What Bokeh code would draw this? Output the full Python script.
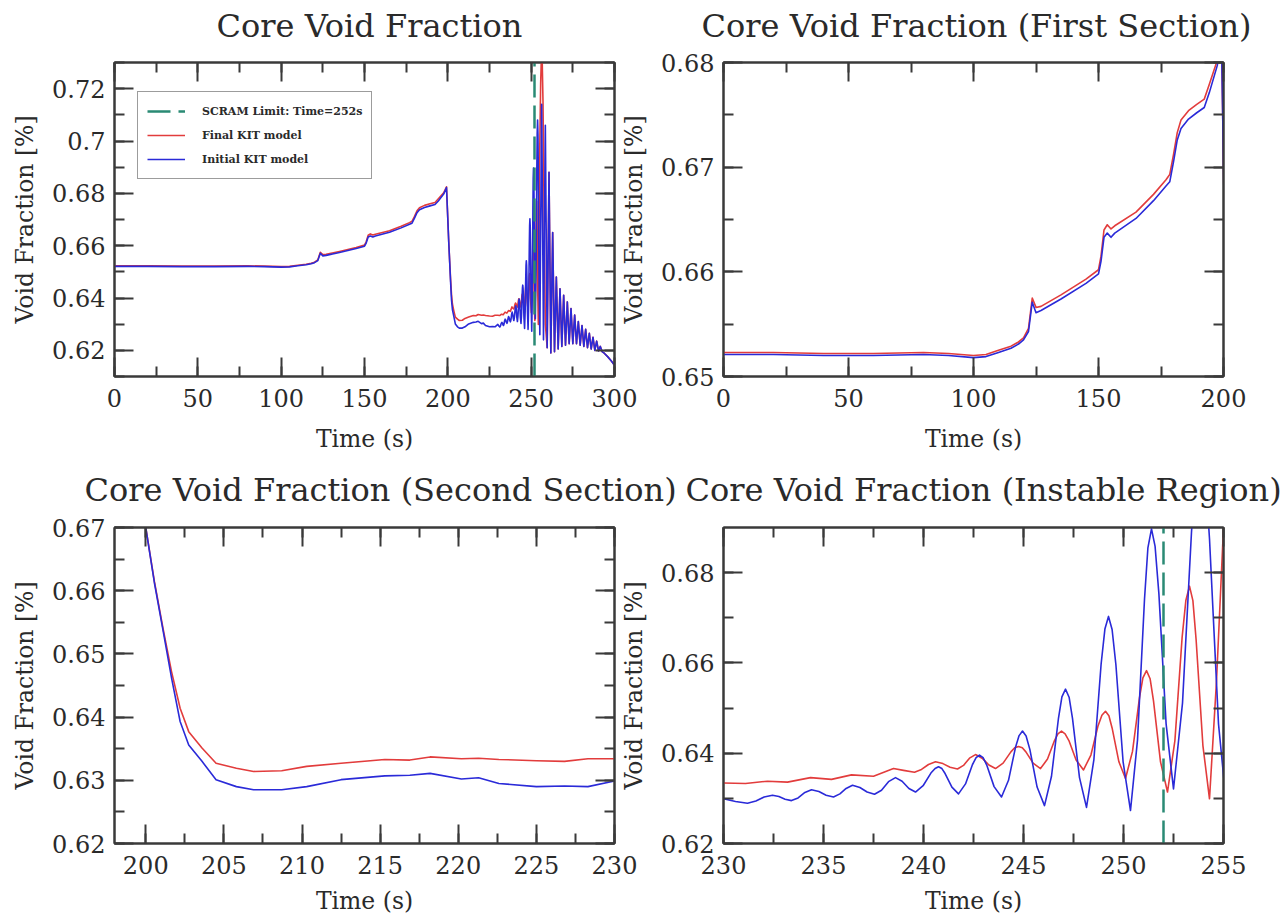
from bokeh.plotting import figure
from bokeh.models import (Range1d, LinearAxis, SingleIntervalTicker, CustomJSTickFormatter,
                          Legend, LegendItem, ColumnDataSource)
from bokeh.layouts import row, column
from bokeh.embed import file_html
from bokeh.resources import INLINE

# ---------------- data ----------------
scram_time = 252

t_final = [0, 20, 40, 60, 80, 90, 100, 105, 110, 115, 118, 120, 122, 123.5, 125, 127, 135, 145,
           150, 151, 152.2, 153.5, 155, 156.5, 165, 172, 177, 178.5, 180, 181.5, 183, 186, 189.3,
           192.3, 194.3, 197.5, 199.2,
           200.0, 200.55, 201.1, 201.65, 202.2, 202.75, 203.6, 204.5, 205.8, 206.9, 208.7, 210.3,
           212.5, 215.3, 216.9, 218.2, 220.2, 221.3, 222.6, 225.0, 226.8, 228.3,
           230.0, 231.1, 232.2, 233.2, 234.35, 235.4, 236.4, 237.5, 238.5, 239.0,
           239.55, 239.9, 240.25, 240.6, 240.97, 241.33, 241.7, 242.0, 242.3, 242.6,
           242.93, 243.27, 243.6, 243.98, 244.37, 244.56, 244.75, 244.94, 245.12, 245.48,
           245.85, 246.2, 246.55, 246.72, 246.9, 247.08, 247.27, 247.63, 248.0, 248.37,
           248.73, 248.92, 249.1, 249.27, 249.43, 249.77, 250.1, 250.45, 250.8, 250.97,
           251.15, 251.33, 251.5, 251.85, 252.2, 252.57, 252.93, 253.12, 253.3, 253.47,
           253.63, 253.97, 254.3, 254.65, 255.0,
           255.7, 256.4, 257.1, 257.8, 258.5, 259.6,
           260.7, 261.8, 262.9, 264.0, 265.1, 266.2, 267.3, 268.4, 269.5, 270.6,
           271.7, 272.8, 273.9, 275.0, 276.1, 277.2, 278.3, 279.4, 280.5, 281.6,
           282.7, 283.8, 284.9, 286.0, 287.1, 288.2, 289.3, 290.4, 291.5, 292.6,
           294.0, 296.0, 298.0, 300.0]
v_final = [0.6523, 0.6523, 0.6522, 0.6522, 0.6523, 0.6522, 0.6520, 0.6521, 0.6525, 0.6529, 0.6533,
           0.6537, 0.6546, 0.6575, 0.6566, 0.6567, 0.6578, 0.6593,
           0.6602, 0.6615, 0.6640, 0.6645, 0.6641, 0.6644, 0.6657, 0.6674, 0.6688, 0.6693, 0.6712,
           0.6733, 0.6745, 0.6754, 0.6760,
           0.6765, 0.6779, 0.6802, 0.6825,
           0.6700, 0.6615, 0.6541, 0.6472, 0.6414, 0.6377, 0.6351, 0.6327, 0.6319, 0.6314, 0.6315,
           0.6322,
           0.6327, 0.6333, 0.6332, 0.6337, 0.6334, 0.6335, 0.6333, 0.6331, 0.6330, 0.6334,
           0.6334, 0.6333, 0.6338, 0.6336, 0.6346, 0.6342, 0.6352, 0.6349, 0.6366, 0.6362,
           0.6358, 0.6364, 0.6375, 0.6381, 0.6377, 0.6369, 0.6365, 0.6373, 0.6389, 0.6397,
           0.6389, 0.6374, 0.6366, 0.6378, 0.6403, 0.6412, 0.6415, 0.6412, 0.6403, 0.6378,
           0.6366, 0.6387, 0.6428, 0.6443, 0.6449, 0.6443, 0.6428, 0.6385, 0.6363, 0.6396,
           0.6461, 0.6484, 0.6493, 0.6483, 0.6456, 0.6381, 0.6344, 0.6404, 0.6523, 0.6567,
           0.6583, 0.6565, 0.6516, 0.6381, 0.6314, 0.6428, 0.6656, 0.6739, 0.6770, 0.6738,
           0.6652, 0.6417, 0.6299, 0.6560, 0.6900,
           0.7220, 0.7380, 0.7150, 0.6700, 0.6300, 0.6210,
           0.6880, 0.6190, 0.6650, 0.6195, 0.6480, 0.6205, 0.6435, 0.6215, 0.6410, 0.6220,
           0.6385, 0.6225, 0.6360, 0.6225, 0.6335, 0.6225, 0.6310, 0.6220, 0.6295, 0.6215,
           0.6280, 0.6210, 0.6265, 0.6205, 0.6250, 0.6200, 0.6235, 0.6198, 0.6215, 0.6195,
           0.6188, 0.6175, 0.6160, 0.6143]

t_initial = [0, 20, 40, 60, 80, 90, 100, 105, 110, 115, 118, 120, 122, 123.5, 125, 127, 135, 145,
             150, 151, 152.2, 153.5, 155, 156.5, 165, 172, 177, 178.5, 180, 181.5, 183, 186, 189.3,
             192.3, 194.3, 197.5, 199.2,
             200.0, 200.55, 201.1, 201.65, 202.2, 202.75, 203.6, 204.5, 205.8, 206.9, 208.7, 210.3,
             212.5, 215.3, 216.9, 218.2, 220.2, 221.3, 222.6, 225.0, 226.8, 228.3,
             230.0, 230.6, 231.2, 231.62, 232.03, 232.45, 232.77, 233.08, 233.4, 233.73,
             234.07, 234.4, 234.77, 235.13, 235.5, 235.82, 236.13, 236.45, 236.82, 237.18,
             237.55, 237.9, 238.25, 238.6, 238.93, 239.27, 239.6, 239.98, 240.37, 240.58,
             240.75, 240.92, 241.08, 241.42, 241.75, 242.1, 242.45, 242.63, 242.8, 242.98,
             243.17, 243.53, 243.9, 244.25, 244.6, 244.78, 244.95, 245.13, 245.32, 245.68,
             246.05, 246.4, 246.75, 246.92, 247.1, 247.28, 247.45, 247.8, 248.15, 248.52,
             248.88, 249.07, 249.25, 249.43, 249.62, 249.98, 250.35, 250.7, 251.05, 251.22,
             251.4, 251.58, 251.77, 252.13, 252.5, 252.95, 253.4, 253.62, 253.85, 254.08,
             254.3, 254.75, 255.2,
             256.3, 257.4, 258.5, 259.6,
             260.7, 261.8, 262.9, 264.0, 265.1, 266.2, 267.3, 268.4, 269.5, 270.6,
             271.7, 272.8, 273.9, 275.0, 276.1, 277.2, 278.3, 279.4, 280.5, 281.6,
             282.7, 283.8, 284.9, 286.0, 287.1, 288.2, 289.3, 290.4, 291.5, 292.6,
             294.0, 296.0, 298.0, 300.0]
v_initial = [0.6521, 0.6521, 0.6520, 0.6520, 0.6521, 0.6520, 0.6518, 0.6519, 0.6523, 0.6527, 0.6531,
             0.6535, 0.6543, 0.6571, 0.6561, 0.6563, 0.6574, 0.6589,
             0.6598, 0.6610, 0.6633, 0.6637, 0.6633, 0.6637, 0.6651, 0.6668, 0.6682, 0.6686, 0.6705,
             0.6726, 0.6737, 0.6746, 0.6752,
             0.6757, 0.6771, 0.6797, 0.6822,
             0.6700, 0.6613, 0.6538, 0.6462, 0.6393, 0.6356, 0.6330, 0.6301, 0.6290, 0.6285, 0.6285,
             0.6290,
             0.6301, 0.6307, 0.6308, 0.6311, 0.6302, 0.6304, 0.6295, 0.6290, 0.6291, 0.6290,
             0.6299, 0.6293, 0.6289, 0.6294, 0.6303, 0.6307, 0.6304, 0.6298, 0.6295, 0.6301,
             0.6313, 0.6319, 0.6315, 0.6307, 0.6303, 0.6310, 0.6322, 0.6329, 0.6324, 0.6314,
             0.6309, 0.6318, 0.6337, 0.6346, 0.6338, 0.6322, 0.6314, 0.6328, 0.6356, 0.6366,
             0.6370, 0.6366, 0.6355, 0.6325, 0.6310, 0.6332, 0.6375, 0.6390, 0.6396, 0.6390,
             0.6373, 0.6326, 0.6303, 0.6340, 0.6413, 0.6439, 0.6449, 0.6438, 0.6408, 0.6325,
             0.6284, 0.6349, 0.6478, 0.6525, 0.6542, 0.6524, 0.6477, 0.6346, 0.6280, 0.6386,
             0.6597, 0.6675, 0.6703, 0.6674, 0.6596, 0.6381, 0.6273, 0.6429, 0.6741, 0.6855,
             0.6897, 0.6858, 0.6753, 0.6465, 0.6321, 0.6511, 0.6890, 0.7029, 0.7080, 0.7025,
             0.6875, 0.6465, 0.6260,
             0.7140, 0.6240, 0.7060, 0.6210,
             0.6880, 0.6190, 0.6650, 0.6195, 0.6480, 0.6205, 0.6435, 0.6215, 0.6410, 0.6220,
             0.6385, 0.6225, 0.6360, 0.6225, 0.6335, 0.6225, 0.6310, 0.6220, 0.6295, 0.6215,
             0.6280, 0.6210, 0.6265, 0.6205, 0.6250, 0.6200, 0.6235, 0.6198, 0.6215, 0.6195,
             0.6188, 0.6175, 0.6160, 0.6143]

assert len(t_final) == len(v_final), (len(t_final), len(v_final))
assert len(t_initial) == len(v_initial), (len(t_initial), len(v_initial))

titles = ["Core Void Fraction", "Core Void Fraction (First Section)",
          "Core Void Fraction (Second Section)", "Core Void Fraction (Instable Region)"]
x_ranges = [(0, 300), (0, 200), (198, 230), (230, 255)]
y_ranges = [(0.61, 0.73), (0.65, 0.68), (0.62, 0.67), (0.62, 0.69)]
x_steps = [50, 50, 5, 5]
y_steps = [0.02, 0.01, 0.01, 0.02]
legend_labels = ["SCRAM Limit: Time=%ds" % scram_time, "Final KIT model", "Initial KIT model"]

# ---------------- styling ----------------
FONT = "DejaVu Serif"
TEXT = "#2a2a2a"
FRAME = "#3a3a3a"
RED = "#e23c3c"
BLUE = "#2a2ad8"
TEAL = "#2a8a74"
DASH = "23 8"

title_offsets = [102, -22, -30, -38]
title_standoffs = [36, 36, 38, 38]
xlabel_standoffs = [15, 15, 10, 10]

src_final = ColumnDataSource(dict(t=t_final, v=v_final))
src_initial = ColumnDataSource(dict(t=t_initial, v=v_initial))


def style_axis(ax, step, labels=True):
    ax.ticker = SingleIntervalTicker(interval=step, num_minor_ticks=2)
    ax.formatter = CustomJSTickFormatter(code="return String(Number(tick.toFixed(4)));")
    ax.major_tick_in = 19
    ax.major_tick_out = 0
    ax.minor_tick_in = 10
    ax.minor_tick_out = 0
    for prop in ("major_tick_line", "minor_tick_line", "axis_line"):
        setattr(ax, prop + "_color", FRAME)
        setattr(ax, prop + "_width", 2)
    if labels:
        ax.major_label_text_font = FONT
        ax.major_label_text_font_size = "24px"
        ax.major_label_text_color = TEXT
        ax.axis_label_text_font = FONT
        ax.axis_label_text_font_size = "23.5px"
        ax.axis_label_text_font_style = "normal"
        ax.axis_label_text_color = TEXT
    else:
        ax.major_label_text_font_size = "1px"
        ax.major_label_text_color = None
        ax.major_label_standoff = 0
        ax.axis_label = None
        ax.axis_label_standoff = 0


def make_panel(i, width, height, borders, margin, legend=False):
    bl, br, bt, bb = borders
    p = figure(width=width, height=height,
               x_range=Range1d(*x_ranges[i]), y_range=Range1d(*y_ranges[i]),
               output_backend="svg", toolbar_location=None,
               min_border_left=bl, min_border_right=br, min_border_top=bt, min_border_bottom=bb,
               x_axis_label="Time (s)", y_axis_label="Void Fraction [%]", title=titles[i])
    p.margin = margin
    p.border_fill_color = None
    p.background_fill_color = "white"
    p.outline_line_color = FRAME
    p.outline_line_width = 2
    p.xgrid.visible = False
    p.ygrid.visible = False
    p.title.text_font = FONT
    p.title.text_font_size = "32px"
    p.title.text_font_style = "normal"
    p.title.text_color = TEXT
    p.title.align = "left"
    p.title.offset = title_offsets[i]
    p.title.standoff = title_standoffs[i]

    style_axis(p.xaxis[0], x_steps[i])
    style_axis(p.yaxis[0], y_steps[i])
    p.xaxis[0].major_label_standoff = 12
    p.xaxis[0].axis_label_standoff = xlabel_standoffs[i]
    p.yaxis[0].major_label_standoff = 9
    p.yaxis[0].axis_label_standoff = 10
    top = LinearAxis()
    style_axis(top, x_steps[i], labels=False)
    p.add_layout(top, "above")
    right = LinearAxis()
    style_axis(right, y_steps[i], labels=False)
    p.add_layout(right, "right")

    r_final = p.line("t", "v", source=src_final, line_color=RED, line_width=1.6, line_join="round")
    r_initial = p.line("t", "v", source=src_initial, line_color=BLUE, line_width=1.6, line_join="round")

    r_scram = None
    if x_ranges[i][0] <= scram_time <= x_ranges[i][1]:
        r_scram = p.line(x=[scram_time, scram_time], y=list(y_ranges[i]), line_color=TEAL,
                         line_width=2.5, line_dash=DASH)
    if legend:
        lg = Legend(items=[LegendItem(label=legend_labels[0], renderers=[r_scram]),
                           LegendItem(label=legend_labels[1], renderers=[r_final]),
                           LegendItem(label=legend_labels[2], renderers=[r_initial])],
                    location=(23, 197))
        lg.label_text_font = FONT
        lg.label_text_font_size = "11px"
        lg.label_text_font_style = "bold"
        lg.label_text_color = TEXT
        lg.border_line_color = FRAME
        lg.border_line_width = 1.5
        lg.background_fill_color = "white"
        lg.background_fill_alpha = 1
        lg.padding = 9
        lg.spacing = 4
        lg.margin = 0
        lg.label_height = 20
        lg.glyph_height = 16
        lg.glyph_width = 38
        lg.label_standoff = 17
        p.add_layout(lg)
    return p


p1 = make_panel(0, 680, 476, (114, 66, 80, 82), (-18, 0, 0, 0), legend=True)
p2 = make_panel(1, 674, 476, (112, 62, 80, 82), (-18, 0, 0, -69))
p3 = make_panel(2, 680, 478, (114, 66, 84, 78), (-15, 0, 0, 0))
p4 = make_panel(3, 674, 478, (112, 62, 84, 78), (-15, 0, 0, -69))

layout = column(row(p1, p2), row(p3, p4))
open("out.html", "w").write(file_html(layout, INLINE))
